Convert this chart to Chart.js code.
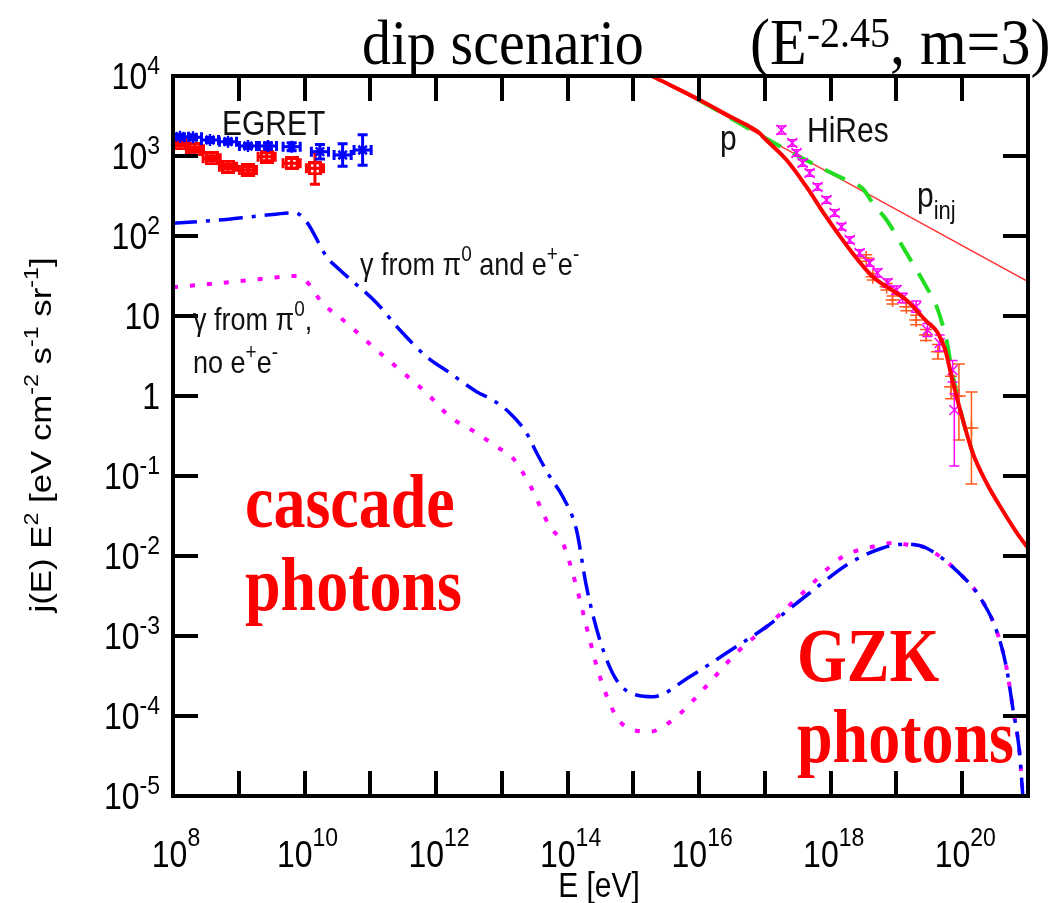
<!DOCTYPE html>
<html><head><meta charset="utf-8">
<script src="https://cdn.jsdelivr.net/npm/chart.js@4.4.1/dist/chart.umd.min.js"></script>
<style>html,body{margin:0;padding:0;background:#fff;}canvas{display:block;}</style>
</head><body>
<canvas id="c" width="1058" height="903"></canvas>
<script>
// ---------- DATA (log10 E [eV], log10 j E^2) ----------
const xTickExps = [8,9,10,11,12,13,14,15,16,17,18,19,20,21];
const xLabelExps = [8,10,12,14,16,18,20];
const yTickExps = [-5,-4,-3,-2,-1,0,1,2,3,4];
const yLabels = [["10","-5"],["10","-4"],["10","-3"],["10","-2"],["10","-1"],["1",""],["10",""],["10","2"],["10","3"],["10","4"]];

// cascade + GZK photons, gamma from pi0 and e+e-
const gammaAllLogE = [8.0,8.7,9.3,9.854,10.03,10.336,10.538,11.096,11.45,11.856,12.21,12.616,12.863,13.12,13.375,13.53,13.73,13.927,14.135,14.287,14.49,14.743,15.047,15.295,15.857,16.415,17.023,17.68,18.29,18.79,19.15,19.454,20.06,20.264,20.518,20.67,20.766,20.872,20.918,20.95];
const gammaAllLogJ = [2.159,2.20,2.25,2.291,2.179,1.741,1.575,1.1625,0.825,0.491,0.2875,0.054,-0.05,-0.2125,-0.4625,-0.7125,-1.009,-1.259,-1.675,-2.384,-3.05,-3.55,-3.7375,-3.759,-3.509,-3.2125,-2.884,-2.4625,-2.0875,-1.90,-1.85,-1.90,-2.30,-2.509,-2.925,-3.384,-3.884,-4.4625,-4.9625,-5.3];
// gamma from pi0 only, no e+e-
const gammaPiLogE = [8.0,8.7,9.3,9.88,10.08,10.234,10.64,11.04,11.45,11.856,12.21,12.616,12.92,13.167,13.45,13.73,13.927,14.135,14.287,14.49,14.743,14.99,15.25,15.655,16.055,16.567,17.023,17.574,18.182,18.638,18.942,19.2,19.454,20.06,20.264,20.518,20.67,20.766,20.872,20.918,20.95];
const gammaPiLogJ = [1.36,1.41,1.46,1.50,1.3875,1.20,0.9125,0.616,0.325,0.0375,-0.259,-0.4625,-0.634,-0.775,-1.15,-1.634,-1.8375,-2.384,-2.884,-3.509,-4.009,-4.175,-4.196,-4.009,-3.675,-3.2125,-2.884,-2.4625,-2.009,-1.884,-1.8375,-1.8625,-1.90,-2.30,-2.509,-2.925,-3.384,-3.884,-4.4625,-4.9625,-5.3];
// protons (modified spectrum)
const protonLogE = [15.0,15.35,16.01,16.5,16.77,16.9,17.02,17.33,17.63,17.93,18.33,18.64,19.0,19.15,19.45,19.62,19.74,19.85,20.01,20.16,20.37,20.61,20.87,21.0];
const protonLogJ = [4.115,3.971,3.70,3.48,3.366,3.30,3.20,2.95,2.616,2.241,1.7875,1.491,1.2875,1.20,0.94,0.80,0.58,0.20,-0.30,-0.7125,-1.0875,-1.425,-1.759,-1.90];
// protons without pair production (GZK only)
const gzkLogE = [16.0,16.97,17.53,18.29,18.40,18.50,18.64,18.85,19.15,19.45,19.61,19.76,19.85,20.01,20.16];
const gzkLogJ = [3.70,3.24,2.99,2.68,2.645,2.58,2.41,2.20,1.79,1.37,1.12,0.70,0.29,-0.30,-0.7125];
// injection spectrum
const injLogE = [15.0,21.0];
const injLogJ = [4.13,1.43];

// EGRET
const egretBlueLogE = [8.106,8.304,8.562,8.836,9.14,9.444,9.804,10.234,10.579,10.883];
const egretBlueLogJ = [3.241,3.234,3.20,3.179,3.125,3.125,3.116,3.054,3.0125,3.075];
const egretBlueErr  = [0.03,0.03,0.03,0.03,0.03,0.04,0.05,0.09,0.14,0.19];
const egretRedLogE  = [8.106,8.334,8.588,8.836,9.14,9.424,9.804,10.158];
const egretRedLogJ  = [3.159,3.084,2.971,2.866,2.825,2.991,2.909,2.846];
const egretRedErr   = [0.03,0.03,0.03,0.03,0.04,0.05,0.06,0.20];
const egretXErr = 0.13;

// HiRes
const hiresLogE = [17.25,17.416,17.48,17.574,17.68,17.8,17.935,18.06,18.163,18.29,18.44,18.59,18.71,18.866,19.0,19.094,19.30,19.47,19.657,19.854,19.88];
const hiresLogJ = [3.325,3.1625,3.0375,2.9125,2.7875,2.6125,2.45,2.2875,2.116,1.95,1.7875,1.6625,1.5375,1.4125,1.325,1.225,1.116,0.825,0.6625,0.325,-0.175];
const hiresErrLo = [0.05,0.04,0.04,0.04,0.04,0.04,0.04,0.04,0.04,0.04,0.04,0.04,0.05,0.05,0.05,0.06,0.07,0.08,0.10,0.15,0.70];
const hiresErrHi = [0.05,0.04,0.04,0.04,0.04,0.04,0.04,0.04,0.04,0.04,0.04,0.04,0.05,0.05,0.05,0.06,0.07,0.08,0.10,0.12,0.20];
// AGASA
const agasaLogE = [18.54,18.64,18.85,18.94,19.15,19.30,19.45,19.63,19.83,19.95,20.14];
const agasaLogJ = [1.725,1.49,1.366,1.20,1.116,0.95,0.7625,0.554,0.116,0.0,-0.40];
const agasaErrLo = [0.04,0.04,0.04,0.05,0.05,0.06,0.07,0.09,0.15,0.55,0.70];
const agasaErrHi = [0.04,0.04,0.04,0.05,0.05,0.06,0.07,0.09,0.13,0.40,0.45];
const agasaXErr = 0.05;

// ---------- helpers ----------
const P = v => Math.pow(10, v);
const pts = (lx, ly) => lx.map((v,i)=>({x:P(v), y:P(ly[i])}));
const errs = (lx, ly, lo, hi, xe) => lx.map((v,i)=>[P(v-xe),P(v+xe),P(ly[i]-(Array.isArray(lo)?lo[i]:lo)),P(ly[i]+(Array.isArray(hi)?hi[i]:hi))]);

const SANS = '"Liberation Sans", Arial, sans-serif';
const SERIF = '"Liberation Serif", "Times New Roman", serif';
const SY = 1.15; // the reference text is slightly stretched vertically

// draws text runs with superscripts/subscripts; returns width
function rich(ctx, parts, x, y, size, family, align, opts) {
  opts = opts || {};
  const ss = Math.round(size*(opts.supScale||0.66));
  const rise = opts.rise != null ? opts.rise : size*0.42;
  const drop = opts.drop != null ? opts.drop : size*0.22;
  const sx = opts.sx || 1, sy = opts.sy || SY;
  const f = k => (opts.weight?opts.weight+' ':'') + (k ? ss : size) + 'px ' + family;
  let w = 0;
  parts.forEach(p => { ctx.font = f(p[1]); w += ctx.measureText(p[0]).width; });
  let cx = align === 'center' ? -w/2 : align === 'right' ? -w : 0;
  ctx.save();
  ctx.translate(x, y); ctx.scale(sx, sy);
  ctx.textAlign = 'left'; ctx.textBaseline = 'alphabetic';
  parts.forEach(p => {
    ctx.font = f(p[1]);
    const dy = p[1] === 'sup' ? -rise : p[1] === 'sub' ? drop : 0;
    ctx.fillText(p[0], cx, dy);
    cx += ctx.measureText(p[0]).width;
  });
  ctx.restore();
  return w;
}

// point style image for EGRET (red boxes)
function boxGrid(color) {
  const c = document.createElement('canvas'); c.width = 14; c.height = 14;
  const g = c.getContext('2d');
  g.fillStyle = color; g.fillRect(0,0,14,14);
  g.fillStyle = '#fff';
  g.fillRect(3,3,3,3); g.fillRect(8,3,3,3); g.fillRect(3,8,3,3); g.fillRect(8,8,3,3);
  return c;
}

// ---------- plugins ----------
const errorBars = {
  id: 'errorBars',
  afterDatasetDraw(chart, args) {
    const ds = chart.data.datasets[args.index];
    if (!ds.errors) return;
    const {ctx, chartArea:a, scales:{x, y}} = chart;
    ctx.save();
    ctx.beginPath(); ctx.rect(a.left, a.top, a.right-a.left, a.bottom-a.top); ctx.clip();
    ctx.strokeStyle = ds.borderColor; ctx.lineWidth = ds.errWidth || 2;
    ctx.beginPath();
    const c = ds.capSize || 4;
    ds.data.forEach((p, j) => {
      const e = ds.errors[j];
      const px = x.getPixelForValue(p.x), py = y.getPixelForValue(p.y);
      const x0 = x.getPixelForValue(e[0]), x1 = x.getPixelForValue(e[1]);
      const y0 = y.getPixelForValue(e[2]), y1 = y.getPixelForValue(e[3]);
      ctx.moveTo(x0, py); ctx.lineTo(x1, py);
      ctx.moveTo(px, y0); ctx.lineTo(px, y1);
      ctx.moveTo(px-c, y0); ctx.lineTo(px+c, y0);
      ctx.moveTo(px-c, y1); ctx.lineTo(px+c, y1);
      if (ds.xCaps) { ctx.moveTo(x0, py-c); ctx.lineTo(x0, py+c); ctx.moveTo(x1, py-c); ctx.lineTo(x1, py+c); }
    });
    ctx.stroke();
    ctx.restore();
  }
};

const frameAndText = {
  id: 'frameAndText',
  afterDraw(chart) {
    const {ctx, chartArea:a, scales:{x, y}} = chart;
    ctx.save();
    ctx.fillStyle = '#000'; ctx.strokeStyle = '#000';
    // ticks (inward)
    ctx.lineWidth = 4; ctx.lineCap = 'butt';
    ctx.beginPath();
    xTickExps.forEach(e => {
      const px = Math.round(x.getPixelForValue(P(e)));
      if (px <= a.left + 2 || px >= a.right - 2) return;
      ctx.moveTo(px, a.bottom); ctx.lineTo(px, a.bottom - 25);
      ctx.moveTo(px, a.top); ctx.lineTo(px, a.top + 25);
    });
    yTickExps.forEach(e => {
      const py = Math.round(y.getPixelForValue(P(e)));
      if (py <= a.top + 2 || py >= a.bottom - 2) return;
      ctx.moveTo(a.left, py); ctx.lineTo(a.left + 25, py);
      ctx.moveTo(a.right, py); ctx.lineTo(a.right - 25, py);
    });
    ctx.stroke();
    // frame
    ctx.lineWidth = 4;
    ctx.strokeRect(a.left, a.top, a.right - a.left, a.bottom - a.top);

    // tick labels
    ctx.fillStyle = '#000';
    yTickExps.forEach((e, i) => {
      const py = y.getPixelForValue(P(e));
      const lab = yLabels[i];
      const parts = [[lab[0], '']];
      if (lab[1]) parts.push([lab[1], 'sup']);
      rich(ctx, parts, 160, py + 12.5, 32, SANS, 'right', {supScale:0.72, rise:13});
    });
    xLabelExps.forEach(e => {
      const px = x.getPixelForValue(P(e));
      rich(ctx, [['10',''],[String(e),'sup']], px + 3, 867, 32, SANS, 'center', {supScale:0.72, rise:18});
    });
    // axis titles
    rich(ctx, [['E [eV]','']], 599, 897, 30, SANS, 'center');
    ctx.save();
    ctx.translate(51, 435); ctx.rotate(-Math.PI/2);
    rich(ctx, [['j(E) E',''],['2','sup'],[' [eV cm',''],['-2','sup'],[' s',''],['-1','sup'],[' sr',''],['-1','sup'],[']','']], 0, 0, 30, SANS, 'center', {supScale:0.68, rise:13, sx:1.16, sy:1.0});
    ctx.restore();

    // title
    ctx.fillStyle = '#000';
    rich(ctx, [['dip scenario','']], 362, 64, 58, SERIF, 'left', {sy:1.1});
    rich(ctx, [['(E',''],['-2.45','sup'],[', m=3)','']], 750, 64, 60, SERIF, 'left', {supScale:0.67, rise:16, sy:1.08});

    // annotations
    ctx.fillStyle = '#111';
    rich(ctx, [['EGRET','']], 222, 135, 30, SANS, 'left');
    rich(ctx, [['HiRes','']], 807, 142, 30, SANS, 'left');
    rich(ctx, [['p','']], 720, 150, 30, SANS, 'left');
    rich(ctx, [['p',''],['inj','sub']], 917, 207, 30, SANS, 'left', {supScale:0.72, drop:10});
    rich(ctx, [['\u03B3 from \u03C0',''],['0','sup'],[' and e',''],['+','sup'],['e',''],['-','sup']], 360, 275, 27, SANS, 'left', {supScale:0.7, rise:12});
    rich(ctx, [['\u03B3 from \u03C0',''],['0','sup'],[',','']], 193, 330, 27, SANS, 'left', {supScale:0.7, rise:12});
    rich(ctx, [['no e',''],['+','sup'],['e',''],['-','sup']], 193, 373, 27, SANS, 'left', {supScale:0.7, rise:12});

    ctx.fillStyle = '#ff0000';
    rich(ctx, [['cascade','']], 245, 527, 64, SERIF, 'left', {weight:'bold', sy:1.18});
    rich(ctx, [['photons','']], 245, 610, 64, SERIF, 'left', {weight:'bold', sy:1.18});
    rich(ctx, [['GZK','']], 797, 681, 64, SERIF, 'left', {weight:'bold', sy:1.18});
    rich(ctx, [['photons','']], 797, 762, 64, SERIF, 'left', {weight:'bold', sy:1.18});
    ctx.restore();
  }
};

// ---------- chart ----------
const line = (data, color, width, dash, extra) => Object.assign({
  data, showLine: true, borderColor: color, backgroundColor: color, borderWidth: width,
  borderDash: dash, pointRadius: 0, fill: false, cubicInterpolationMode: 'monotone', clip: 0
}, extra || {});

const datasets = [
  line(pts(protonLogE, protonLogJ), '#ff0000', 4, []),
  { data: pts(hiresLogE, hiresLogJ), errors: errs(hiresLogE, hiresLogJ, hiresErrLo, hiresErrHi, 0.0),
    borderColor: '#ff00ff', backgroundColor: '#ff00ff', pointStyle: 'crossRot', pointRadius: 7, borderWidth: 1.5, errWidth: 1.5, capSize: 5, showLine: false, clip: 0 },
  { data: pts(agasaLogE, agasaLogJ), errors: errs(agasaLogE, agasaLogJ, agasaErrLo, agasaErrHi, agasaXErr),
    borderColor: '#ff5a1a', backgroundColor: '#ff5a1a', pointStyle: 'cross', pointRadius: 7, borderWidth: 1.5, errWidth: 1.5, capSize: 6, showLine: false, clip: 0 },
  line(pts(gzkLogE, gzkLogJ), '#22dd22', 4, [22, 14]),
  line(pts(injLogE, injLogJ), '#ff3030', 1.3, [], {cubicInterpolationMode: 'default'}),
  { data: pts(egretBlueLogE, egretBlueLogJ), errors: errs(egretBlueLogE, egretBlueLogJ, egretBlueErr, egretBlueErr, egretXErr),
    borderColor: '#0000ff', backgroundColor: '#0000ff', pointStyle: 'star', pointRadius: 6, borderWidth: 2.5, errWidth: 3, capSize: 5, xCaps: true, showLine: false, clip: 0 },
  { data: pts(egretRedLogE, egretRedLogJ), errors: errs(egretRedLogE, egretRedLogJ, egretRedErr, egretRedErr, egretXErr),
    borderColor: '#ff0000', backgroundColor: '#ff0000', pointStyle: boxGrid('#ff0000'), pointRadius: 7, borderWidth: 0, errWidth: 3, capSize: 5, xCaps: true, showLine: false, clip: 0 },
  line(pts(gammaAllLogE, gammaAllLogJ), '#0000ff', 3.5, [24, 9, 4, 9]),
  line(pts(gammaPiLogE, gammaPiLogJ), '#ff00ff', 4, [5, 12])
];

new Chart(document.getElementById('c').getContext('2d'), {
  type: 'scatter',
  data: { datasets },
  options: {
    responsive: false, animation: false, devicePixelRatio: 1,
    layout: { padding: { left: 173, right: 30, top: 76, bottom: 107 } },
    plugins: { legend: { display: false }, tooltip: { enabled: false }, title: { display: false } },
    scales: {
      x: { type: 'logarithmic', min: 1e8, max: 1e21, display: false },
      y: { type: 'logarithmic', min: 1e-5, max: 1e4, display: false }
    }
  },
  plugins: [errorBars, frameAndText]
});
</script>
</body></html>
